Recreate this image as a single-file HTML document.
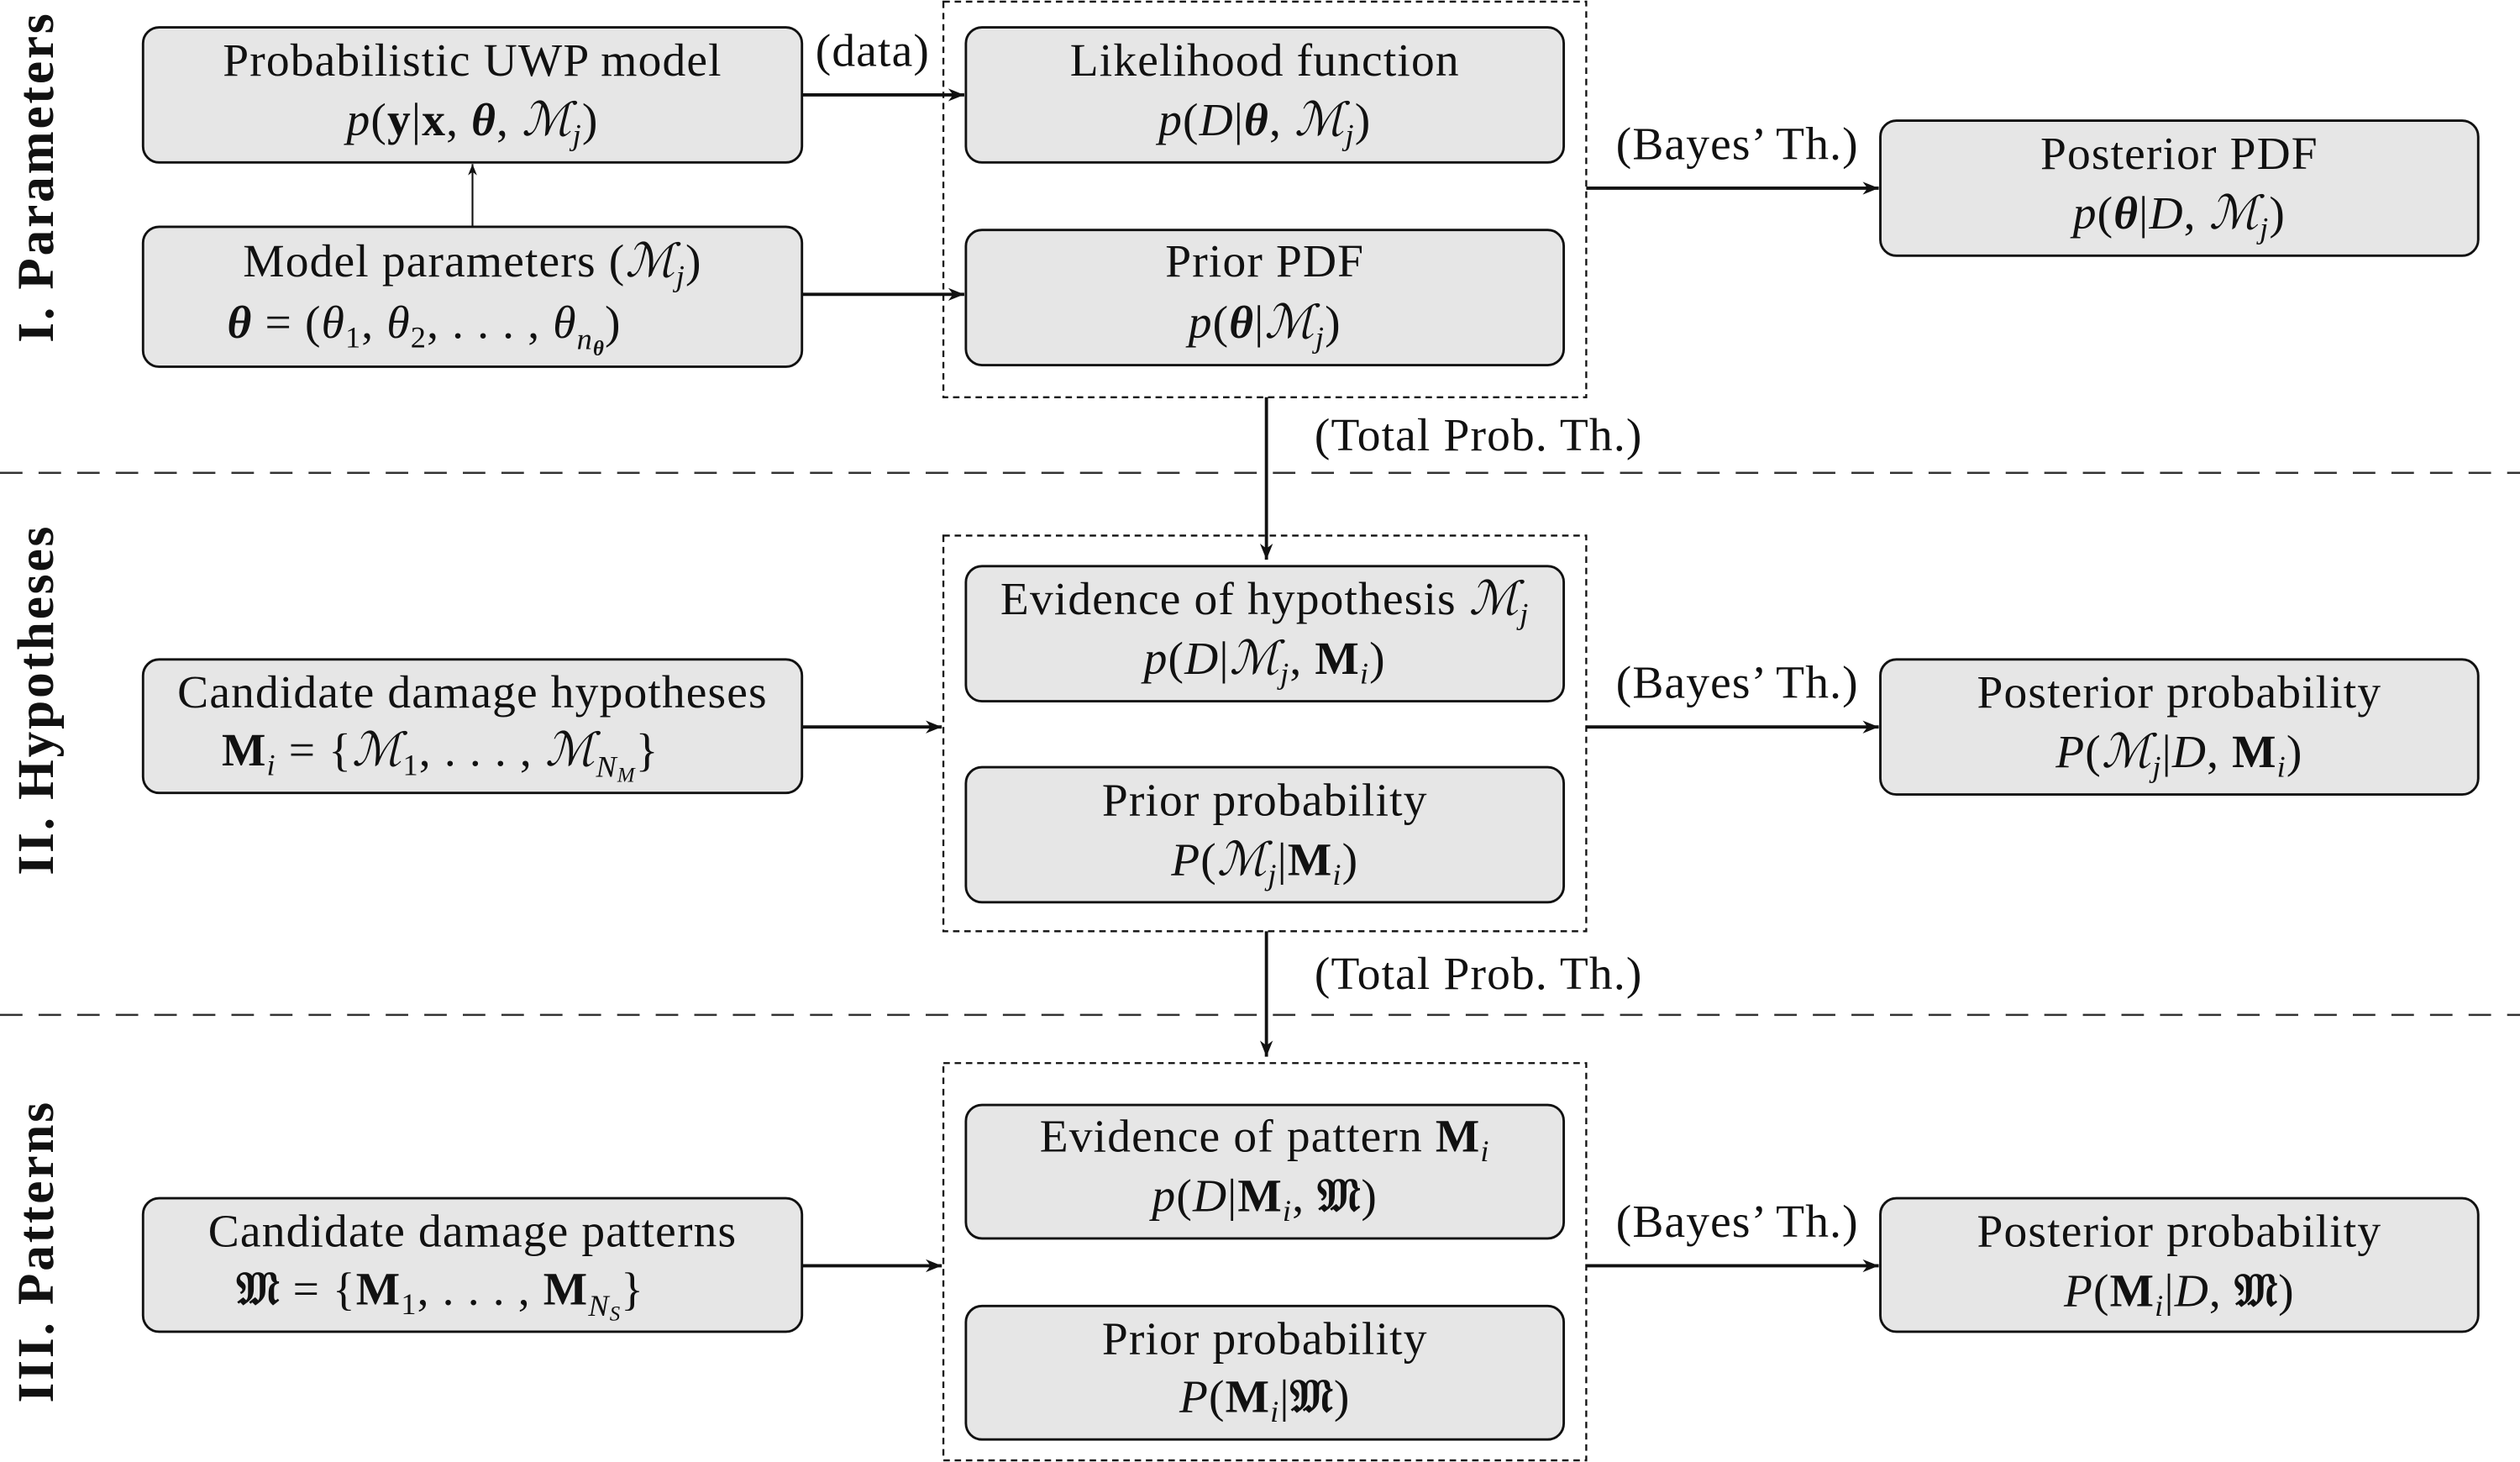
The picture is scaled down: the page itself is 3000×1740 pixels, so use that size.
<!DOCTYPE html>
<html><head><meta charset="utf-8"><style>
html,body{margin:0;padding:0;background:#fff;}
svg{display:block;}
text{font-family:"Liberation Serif","DejaVu Serif",serif;fill:#111;}
.t{font-size:29px;text-anchor:middle;letter-spacing:0.6px;}
.i{font-style:italic;}
.b{font-weight:bold;}
</style></head><body>
<svg width="3000" height="1740" viewBox="0 0 1568 909" preserveAspectRatio="none" xmlns="http://www.w3.org/2000/svg">
<defs>
<marker id="a" viewBox="0 0 10 10" refX="10" refY="5" markerWidth="7" markerHeight="7" orient="auto" markerUnits="userSpaceOnUse"><path d="M0,1 L10,5 L0,9 L3,5 z" fill="#111"/></marker>
<marker id="as" viewBox="0 0 10 10" refX="10" refY="5" markerWidth="10" markerHeight="10" orient="auto" markerUnits="userSpaceOnUse"><path d="M0,1 L10,5 L0,9 L3,5 z" fill="#111"/></marker>
</defs>
<g fill="none" stroke="#111" stroke-width="1.2" stroke-dasharray="4,3">
<rect x="587" y="1" width="400" height="246"/>
<rect x="587" y="333" width="400" height="246"/>
<rect x="587" y="661" width="400" height="247"/>
</g>
<g stroke="#333" stroke-width="1.3" stroke-dasharray="14,10">
<line x1="0" y1="294" x2="1568" y2="294"/>
<line x1="0" y1="631" x2="1568" y2="631"/>
</g>
<g fill="#e6e6e6" stroke="#111" stroke-width="1.5">
<rect x="89" y="17" width="410" height="84" rx="10"/>
<rect x="89" y="141" width="410" height="87" rx="10"/>
<rect x="601" y="17" width="372" height="84" rx="10"/>
<rect x="601" y="143" width="372" height="84" rx="10"/>
<rect x="1170" y="75" width="372" height="84" rx="10"/>
<rect x="89" y="410" width="410" height="83" rx="10"/>
<rect x="601" y="352" width="372" height="84" rx="10"/>
<rect x="601" y="477" width="372" height="84" rx="10"/>
<rect x="1170" y="410" width="372" height="84" rx="10"/>
<rect x="89" y="745" width="410" height="83" rx="10"/>
<rect x="601" y="687" width="372" height="83" rx="10"/>
<rect x="601" y="812" width="372" height="83" rx="10"/>
<rect x="1170" y="745" width="372" height="83" rx="10"/>
</g>
<g stroke="#111" stroke-width="2" fill="none">
<line x1="499" y1="59" x2="600" y2="59" marker-end="url(#as)"/>
<line x1="499" y1="183" x2="600" y2="183" marker-end="url(#as)"/>
<line x1="987" y1="117" x2="1169" y2="117" marker-end="url(#as)"/>
<line x1="788" y1="247" x2="788" y2="348" marker-end="url(#as)"/>
<line x1="499" y1="452" x2="586" y2="452" marker-end="url(#as)"/>
<line x1="987" y1="452" x2="1169" y2="452" marker-end="url(#as)"/>
<line x1="788" y1="579" x2="788" y2="657" marker-end="url(#as)"/>
<line x1="499" y1="787" x2="586" y2="787" marker-end="url(#as)"/>
<line x1="987" y1="787" x2="1169" y2="787" marker-end="url(#as)"/>
</g>
<line x1="294" y1="141" x2="294" y2="102" stroke="#111" stroke-width="1.1" marker-end="url(#a)"/>
<text class="t" x="543" y="41">(data)</text>
<text class="t" x="1081" y="99">(Bayes’ Th.)</text>
<text class="t" x="1081" y="434">(Bayes’ Th.)</text>
<text class="t" x="1081" y="769">(Bayes’ Th.)</text>
<text class="t" x="920" y="280">(Total Prob. Th.)</text>
<text class="t" x="920" y="615">(Total Prob. Th.)</text>
<g class="t">
<text class="t" x="294" y="47">Probabilistic UWP model</text>
<text class="t" x="294" y="84"><tspan class="i">p</tspan>(<tspan class="b">y</tspan>|<tspan class="b">x</tspan>, <tspan class="b i">θ</tspan>, <tspan class="i">ℳ<tspan font-size="19" dy="6">j</tspan></tspan><tspan dy="-6">)</tspan></text>
<text class="t" x="294" y="172">Model parameters (<tspan class="i">ℳ<tspan font-size="19" dy="6">j</tspan></tspan><tspan dy="-6">)</tspan></text>
<text class="t" x="264" y="210"><tspan class="b i">θ</tspan>  =  (<tspan class="i">θ</tspan><tspan font-size="19" dy="6">1</tspan><tspan dy="-6">, </tspan><tspan class="i">θ</tspan><tspan font-size="19" dy="6">2</tspan><tspan dy="-6">, . . . , </tspan><tspan class="i">θ</tspan><tspan font-size="19" dy="7" class="i">n</tspan><tspan font-size="13" dy="4" class="b i">θ</tspan><tspan dy="-11">)</tspan></text>
<text class="t" x="787" y="47">Likelihood function</text>
<text class="t" x="787" y="84"><tspan class="i">p</tspan>(<tspan class="i">D</tspan>|<tspan class="b i">θ</tspan>, <tspan class="i">ℳ<tspan font-size="19" dy="6">j</tspan></tspan><tspan dy="-6">)</tspan></text>
<text class="t" x="787" y="172">Prior PDF</text>
<text class="t" x="787" y="210"><tspan class="i">p</tspan>(<tspan class="b i">θ</tspan>|<tspan class="i">ℳ<tspan font-size="19" dy="6">j</tspan></tspan><tspan dy="-6">)</tspan></text>
<text class="t" x="1356" y="105">Posterior PDF</text>
<text class="t" x="1356" y="142"><tspan class="i">p</tspan>(<tspan class="b i">θ</tspan>|<tspan class="i">D</tspan>, <tspan class="i">ℳ<tspan font-size="19" dy="6">j</tspan></tspan><tspan dy="-6">)</tspan></text>
<text class="t" x="294" y="440">Candidate damage hypotheses</text>
<text class="t" x="274" y="476"><tspan class="b">M</tspan><tspan font-size="19" dy="6" class="i">i</tspan><tspan dy="-6">  =  {</tspan><tspan class="i">ℳ</tspan><tspan font-size="19" dy="6">1</tspan><tspan dy="-6">, . . . , </tspan><tspan class="i">ℳ</tspan><tspan font-size="19" dy="7" class="i">N</tspan><tspan font-size="13" dy="3" class="i">M</tspan><tspan dy="-10">}</tspan></text>
<text class="t" x="787" y="382">Evidence of hypothesis <tspan class="i">ℳ<tspan font-size="19" dy="6">j</tspan></tspan></text>
<text class="t" x="787" y="419"><tspan class="i">p</tspan>(<tspan class="i">D</tspan>|<tspan class="i">ℳ<tspan font-size="19" dy="6">j</tspan></tspan><tspan dy="-6">, </tspan><tspan class="b">M</tspan><tspan font-size="19" dy="6" class="i">i</tspan><tspan dy="-6">)</tspan></text>
<text class="t" x="787" y="507">Prior probability</text>
<text class="t" x="787" y="544"><tspan class="i">P</tspan>(<tspan class="i">ℳ<tspan font-size="19" dy="6">j</tspan></tspan><tspan dy="-6">|</tspan><tspan class="b">M</tspan><tspan font-size="19" dy="6" class="i">i</tspan><tspan dy="-6">)</tspan></text>
<text class="t" x="1356" y="440">Posterior probability</text>
<text class="t" x="1356" y="477"><tspan class="i">P</tspan>(<tspan class="i">ℳ<tspan font-size="19" dy="6">j</tspan></tspan><tspan dy="-6">|</tspan><tspan class="i">D</tspan>, <tspan class="b">M</tspan><tspan font-size="19" dy="6" class="i">i</tspan><tspan dy="-6">)</tspan></text>
<text class="t" x="294" y="775">Candidate damage patterns</text>
<text class="t" x="274" y="811"><tspan class="b">𝔐</tspan>  =  {<tspan class="b">M</tspan><tspan font-size="19" dy="6">1</tspan><tspan dy="-6">, . . . , </tspan><tspan class="b">M</tspan><tspan font-size="19" dy="7" class="i">N</tspan><tspan font-size="13" dy="3" class="i">S</tspan><tspan dy="-10">}</tspan></text>
<text class="t" x="787" y="716">Evidence of pattern <tspan class="b">M</tspan><tspan font-size="19" dy="6" class="i">i</tspan></text>
<text class="t" x="787" y="753"><tspan class="i">p</tspan>(<tspan class="i">D</tspan>|<tspan class="b">M</tspan><tspan font-size="19" dy="6" class="i">i</tspan><tspan dy="-6">, </tspan><tspan class="b">𝔐</tspan>)</text>
<text class="t" x="787" y="842">Prior probability</text>
<text class="t" x="787" y="878"><tspan class="i">P</tspan>(<tspan class="b">M</tspan><tspan font-size="19" dy="6" class="i">i</tspan><tspan dy="-6">|</tspan><tspan class="b">𝔐</tspan>)</text>
<text class="t" x="1356" y="775">Posterior probability</text>
<text class="t" x="1356" y="812"><tspan class="i">P</tspan>(<tspan class="b">M</tspan><tspan font-size="19" dy="6" class="i">i</tspan><tspan dy="-6">|</tspan><tspan class="i">D</tspan>, <tspan class="b">𝔐</tspan>)</text>
</g>
<text transform="translate(33,110) rotate(-90)" style="font-size:32px;font-weight:bold;text-anchor:middle;letter-spacing:1.5px;">I. Parameters</text>
<text transform="translate(33,435) rotate(-90)" style="font-size:32px;font-weight:bold;text-anchor:middle;letter-spacing:1.5px;">II. Hypotheses</text>
<text transform="translate(33,778) rotate(-90)" style="font-size:32px;font-weight:bold;text-anchor:middle;letter-spacing:1.5px;">III. Patterns</text>
</svg>
</body></html>
